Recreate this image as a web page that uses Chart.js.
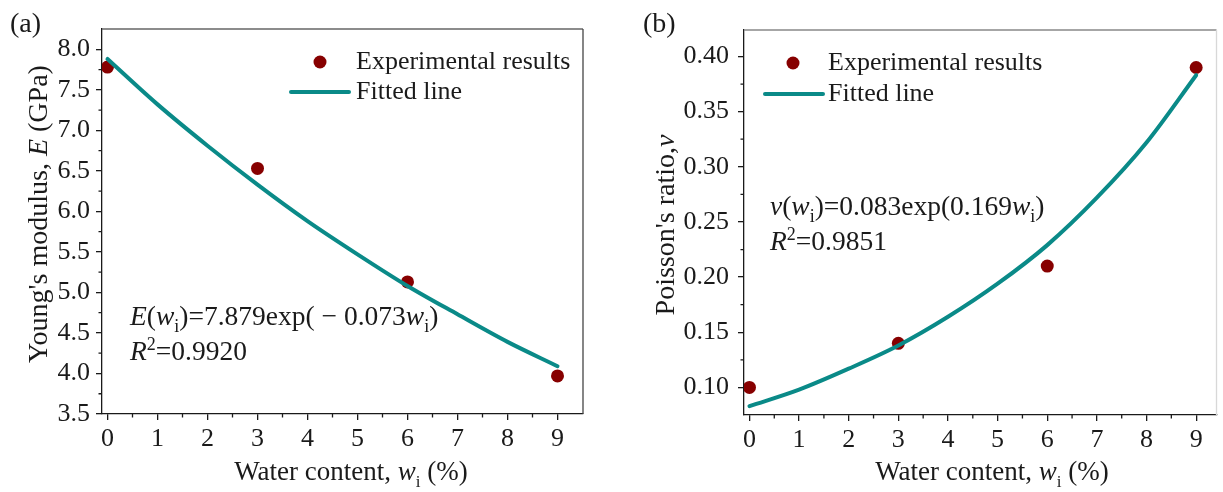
<!DOCTYPE html>
<html>
<head>
<meta charset="utf-8">
<script src="https://cdn.jsdelivr.net/npm/chart.js@4.4.1/dist/chart.umd.min.js"></script>
<style>
html, body { margin: 0; padding: 0; background: #fff; }
#wrap { position: relative; width: 1223px; height: 492px; overflow: hidden; }
.panel { position: absolute; top: 0; height: 492px; }
#panelA { left: 0; width: 611px; }
#panelB { left: 611px; width: 612px; }
</style>
</head>
<body>
<div id="wrap">
  <div class="panel" id="panelA"><canvas id="chartA"></canvas></div>
  <div class="panel" id="panelB"><canvas id="chartB"></canvas></div>
</div>
<script>
// Datos
const waterContent = [0, 3, 6, 9];
const youngModulus = [7.78, 6.53, 5.13, 3.97];
const poissonRatio = [0.100, 0.140, 0.210, 0.390];

// Curvas ajustadas (leídas punto a punto)
const fitWater = [0, 1, 2, 3, 4, 5, 6, 7, 8, 9];
const youngFit = [7.88, 7.32, 6.81, 6.33, 5.88, 5.47, 5.08, 4.73, 4.39, 4.09];
const poissonFit = [0.083, 0.098, 0.117, 0.138, 0.164, 0.194, 0.229, 0.272, 0.322, 0.383];

// Marcas de los ejes
const xTicks = [0, 1, 2, 3, 4, 5, 6, 7, 8, 9];
const xMinorTicks = [0.5, 1.5, 2.5, 3.5, 4.5, 5.5, 6.5, 7.5, 8.5];
const youngTicks = [3.5, 4.0, 4.5, 5.0, 5.5, 6.0, 6.5, 7.0, 7.5, 8.0];
const youngMinorTicks = [3.75, 4.25, 4.75, 5.25, 5.75, 6.25, 6.75, 7.25, 7.75];
const poissonTicks = [0.10, 0.15, 0.20, 0.25, 0.30, 0.35, 0.40];
const poissonMinorTicks = [0.125, 0.175, 0.225, 0.275, 0.325, 0.375];

const FONT = "'Liberation Serif', 'Times New Roman', serif";
const DOT = "#870000";
const TEAL = "#0a8a88";
const INK = "#1a1a1a";

function fontFor(r, size) {
    const s = (r.sub || r.sup) ? Math.round(size * 0.64) : size;
    return (r.italic ? "italic " : "") + s + "px " + FONT;
}

// Dibuja texto con cursivas, subíndices y superíndices
function drawRich(ctx, runs, x, y, align, size) {
    let total = 0;
    runs.forEach(r => { ctx.font = fontFor(r, size); total += ctx.measureText(r.t).width; });
    let cx = align === "center" ? x - total / 2 : x;
    ctx.textAlign = "left";
    ctx.textBaseline = "alphabetic";
    ctx.fillStyle = INK;
    runs.forEach(r => {
        ctx.font = fontFor(r, size);
        const dy = r.sub ? size * 0.25 : (r.sup ? -size * 0.36 : 0);
        ctx.fillText(r.t, cx, y + dy);
        cx += ctx.measureText(r.t).width;
    });
}

function makeDecor(cfg) {
    return {
        id: "decor",
        afterDraw(chart) {
            const ctx = chart.ctx;
            const a = chart.chartArea;
            const xs = chart.scales.x, ys = chart.scales.y;
            ctx.save();
            // marco superior y derecho
            ctx.lineWidth = 1.3;
            ctx.strokeStyle = cfg.topColor;
            ctx.beginPath(); ctx.moveTo(a.left, a.top); ctx.lineTo(a.right, a.top); ctx.stroke();
            ctx.strokeStyle = cfg.rightColor;
            ctx.beginPath(); ctx.moveTo(a.right, a.top); ctx.lineTo(a.right, a.bottom); ctx.stroke();

            // marcas menores
            ctx.strokeStyle = INK;
            ctx.beginPath();
            xMinorTicks.forEach(v => {
                const px = xs.getPixelForValue(v);
                ctx.moveTo(px, a.bottom); ctx.lineTo(px, a.bottom + 3.5);
            });
            cfg.yMinor.forEach(v => {
                const py = ys.getPixelForValue(v);
                ctx.moveTo(a.left - 3.5, py); ctx.lineTo(a.left, py);
            });
            ctx.stroke();

            // leyenda
            const lg = cfg.legend;
            const ds = chart.data.datasets;
            ctx.fillStyle = DOT;
            ctx.beginPath(); ctx.arc(lg.dotX, lg.row1, 6.5, 0, Math.PI * 2); ctx.fill();
            ctx.strokeStyle = TEAL; ctx.lineWidth = 4; ctx.lineCap = "round";
            ctx.beginPath(); ctx.moveTo(lg.lineX0, lg.row2); ctx.lineTo(lg.lineX1, lg.row2); ctx.stroke();
            ctx.fillStyle = INK;
            ctx.font = "26px " + FONT;
            ctx.textAlign = "left"; ctx.textBaseline = "middle";
            ctx.fillText(ds[0].label, lg.textX, lg.row1);
            ctx.fillText(ds[1].label, lg.textX, lg.row2);

            // ecuación
            drawRich(ctx, cfg.eq, cfg.eqX, cfg.eqY1, "left", 27.5);
            drawRich(ctx, cfg.r2, cfg.eqX, cfg.eqY2, "left", 27.5);

            // etiqueta del panel
            ctx.font = "28px " + FONT; ctx.fillStyle = INK;
            ctx.textAlign = "left"; ctx.textBaseline = "alphabetic";
            ctx.fillText(cfg.panel, cfg.panelX, 32);

            // títulos de ejes
            drawRich(ctx, cfg.xTitle, cfg.xTitleX, 480, "center", 27);
            ctx.translate(cfg.yTitleX, cfg.yTitleY);
            ctx.rotate(-Math.PI / 2);
            drawRich(ctx, cfg.yTitle, 0, 0, "center", 28);
            ctx.restore();
        }
    };
}

const xTitleRuns = [{ t: "Water content, " }, { t: "w", italic: true }, { t: "i", sub: true }, { t: " (%)" }];

function buildChart(id, opt) {
    const ctx = document.getElementById(id).getContext("2d");
    return new Chart(ctx, {
        type: "scatter",
        data: {
            datasets: [
                {
                    label: "Experimental results",
                    data: waterContent.map((w, i) => ({ x: w, y: opt.values[i] })),
                    backgroundColor: DOT,
                    borderWidth: 0,
                    pointRadius: 6.5,
                    order: 2
                },
                {
                    label: "Fitted line",
                    data: fitWater.map((w, i) => ({ x: w, y: opt.fit[i] })),
                    showLine: true,
                    borderColor: TEAL,
                    borderWidth: 4,
                    borderCapStyle: "round",
                    pointRadius: 0,
                    cubicInterpolationMode: "monotone",
                    order: 1
                }
            ]
        },
        options: {
            responsive: true,
            maintainAspectRatio: false,
            animation: false,
            layout: { padding: { left: 0, right: opt.padRight, top: opt.padTop, bottom: 0 } },
            plugins: { legend: { display: false }, tooltip: { enabled: false } },
            scales: {
                x: {
                    type: "linear",
                    min: opt.xMin, max: opt.xMax,
                    afterBuildTicks: s => { s.ticks = xTicks.map(v => ({ value: v })); },
                    afterFit: s => { s.height = opt.xAxisH; },
                    grid: { drawOnChartArea: false, drawTicks: true, tickLength: 6, color: INK, lineWidth: 1.3 },
                    border: { color: INK, width: 1.3 },
                    ticks: { font: { family: FONT, size: 26 }, color: INK, padding: 4, maxRotation: 0, autoSkip: false,
                             callback: v => String(v) }
                },
                y: {
                    type: "linear",
                    min: opt.yMin, max: opt.yMax,
                    afterBuildTicks: s => { s.ticks = opt.yTicks.map(v => ({ value: v })); },
                    afterFit: s => { s.width = opt.yAxisW; },
                    grid: { drawOnChartArea: false, drawTicks: true, tickLength: 6, color: INK, lineWidth: 1.3 },
                    border: { color: INK, width: 1.3 },
                    ticks: { font: { family: FONT, size: 26 }, color: INK, padding: opt.yPad, autoSkip: false,
                             callback: v => v.toFixed(opt.decimals) }
                }
            }
        },
        plugins: [makeDecor(opt.decor)]
    });
}

buildChart("chartA", {
    values: youngModulus, fit: youngFit,
    xMin: -0.11, xMax: 9.51, yMin: 3.5, yMax: 8.25,
    yTicks: youngTicks, decimals: 1,
    padRight: 28, padTop: 29, xAxisH: 78, yAxisW: 102, yPad: 6,
    decor: {
        topColor: "#666", rightColor: "#444",
        yMinor: youngMinorTicks,
        legend: { dotX: 320, row1: 62, row2: 92, lineX0: 291, lineX1: 349, textX: 356 },
        eq: [{ t: "E", italic: true }, { t: "(" }, { t: "w", italic: true }, { t: "i", sub: true },
             { t: ")=7.879exp( \u2212 0.073" }, { t: "w", italic: true }, { t: "i", sub: true }, { t: ")" }],
        r2: [{ t: "R", italic: true }, { t: "2", sup: true }, { t: "=0.9920" }],
        eqX: 130, eqY1: 325, eqY2: 360,
        panel: "(a)", panelX: 10,
        xTitle: xTitleRuns, xTitleX: 351,
        yTitle: [{ t: "Young's modulus, " }, { t: "E", italic: true }, { t: " (GPa)" }],
        yTitleX: 47, yTitleY: 214
    }
});

buildChart("chartB", {
    values: poissonRatio, fit: poissonFit,
    xMin: -0.11, xMax: 9.41, yMin: 0.075, yMax: 0.424,
    yTicks: poissonTicks, decimals: 2,
    padRight: 3, padTop: 30, xAxisH: 77, yAxisW: 133, yPad: 9,
    decor: {
        topColor: "#888", rightColor: "#d8d8d8",
        yMinor: poissonMinorTicks,
        legend: { dotX: 182, row1: 63, row2: 94, lineX0: 154, lineX1: 212, textX: 217 },
        eq: [{ t: "v", italic: true }, { t: "(" }, { t: "w", italic: true }, { t: "i", sub: true },
             { t: ")=0.083exp(0.169" }, { t: "w", italic: true }, { t: "i", sub: true }, { t: ")" }],
        r2: [{ t: "R", italic: true }, { t: "2", sup: true }, { t: "=0.9851" }],
        eqX: 159, eqY1: 215, eqY2: 250,
        panel: "(b)", panelX: 32,
        xTitle: xTitleRuns, xTitleX: 381,
        yTitle: [{ t: "Poisson's ratio," }, { t: "v", italic: true }],
        yTitleX: 63, yTitleY: 225
    }
});
</script>
</body>
</html>
